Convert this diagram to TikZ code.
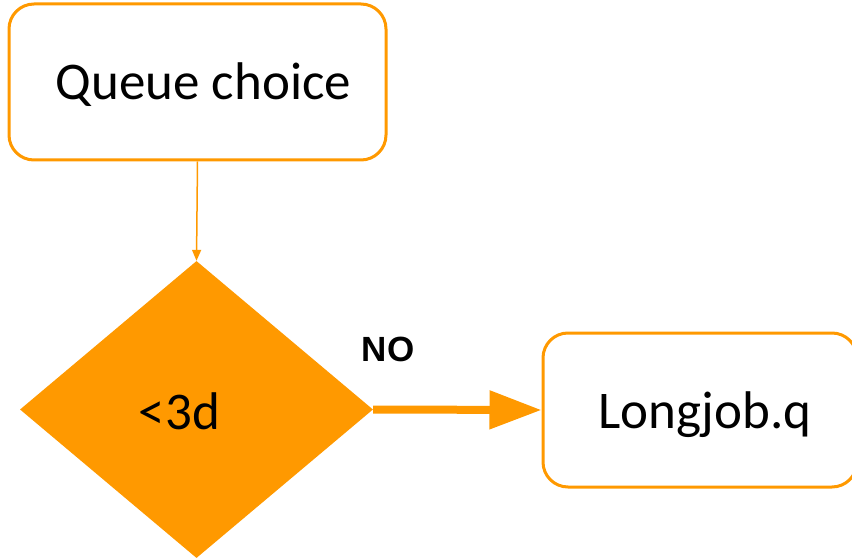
\documentclass[tikz,border=0pt]{standalone}
\usepackage{fontspec}
\setmainfont{Carlito}
\newfontfamily\labfont{Liberation Sans}
\usetikzlibrary{shapes.geometric,arrows.meta}
\definecolor{orng}{HTML}{FF9900}
\begin{document}
\begin{tikzpicture}[x=1pt,y=-1pt,
  procbox/.style={draw=orng, line width=3pt, rounded corners=25pt, fill=white, inner sep=0pt},
  decbox/.style={diamond, fill=orng, draw=none, inner sep=0pt, aspect=1.19, minimum width=353pt, minimum height=297pt},
  thinarrow/.style={draw=orng, line width=1.5pt, -{Triangle[length=11pt,width=9pt]}},
  thickarrow/.style={draw=orng, line width=8pt, -{Triangle[length=52pt,width=37pt]}},
  boxtext/.style={font=\fontsize{53}{58}\selectfont, text height=40pt, text depth=4pt}
]
\useasboundingbox (0,0) rectangle (852,559);
\node[procbox, minimum width=377pt, minimum height=156pt, boxtext] (queue) at (197.5,82) {\hspace*{12pt}Queue choice};
\node[decbox, boxtext, text height=41pt, text depth=2pt] (dec) at (196.5,409.5) {<3d\hspace*{34pt}};
\node[procbox, minimum width=314pt, minimum height=154pt, boxtext] (long) at (700,410) {\hspace*{10pt}Longjob.q};
\draw[thinarrow] (queue.south) -- (dec.north);
\draw[thickarrow] (dec.east) -- (long.west);
\node[font=\labfont\bfseries\fontsize{35}{40}\selectfont, inner sep=0pt] (no) at (388,349) {NO};
\end{tikzpicture}
\end{document}
